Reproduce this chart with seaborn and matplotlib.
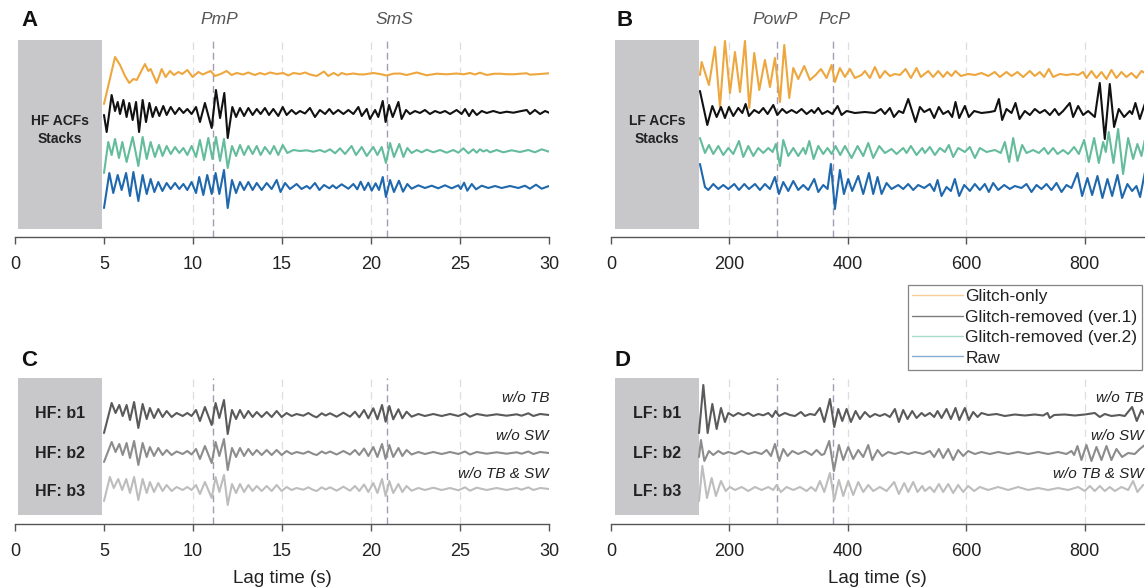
import numpy as np
import pandas as pd
import matplotlib
matplotlib.use("Agg")
import matplotlib.pyplot as plt
from matplotlib.lines import Line2D
from matplotlib.patches import Rectangle
import seaborn as sns

# ---------------- DATA (lag time, amplitude) ----------------
hf_ticks = [0, 5, 10, 15, 20, 25, 30]
lf_ticks = [0, 200, 400, 600, 800]
hf_phases = {"PmP": 11.1, "SmS": 20.9}
lf_phases = {"PowP": 280, "PcP": 375}
hf_grid = [10, 15, 20, 25]
lf_grid = [200, 400, 600, 800]

series_labels = ["Glitch-only", "Glitch-removed (ver.1)", "Glitch-removed (ver.2)", "Raw"]
band_labels_hf = ["HF: b1", "HF: b2", "HF: b3"]
band_labels_lf = ["LF: b1", "LF: b2", "LF: b3"]
band_notes = ["w/o TB", "w/o SW", "w/o TB & SW"]

hf_glitch = [(5.0,-30),(5.62,17),(5.90,9),(6.18,-2),(6.42,-9),(6.65,-5),(6.84,-6),(7.30,10),(7.49,3),(7.62,5),(7.96,-9),(8.24,5),(8.46,-3),(8.71,3),(8.93,-1),(9.18,2),(9.40,0),(9.68,4),(9.98,-3),(10.30,2),(10.55,-0.5),(10.73,1),(10.99,3),(11.24,-2),(11.55,0),(11.89,3),(12.17,-1),(12.45,1),(12.83,-0.5),(13.10,1.5),(13.48,-1),(13.76,1),(14.04,-0.5),(14.33,1.5),(14.70,0),(15.07,1),(15.35,-1.5),(15.64,1),(16.01,0),(16.30,1.5),(16.57,-0.5),(16.95,-2),(17.36,2.5),(17.60,-2),(17.90,1),(18.16,-1.5),(18.35,1),(18.63,-0.5),(19.00,0.5),(19.30,-0.3),(19.57,-0.5),(20.13,1),(20.50,0),(20.88,-1.5),(21.25,0.3),(21.63,0.5),(22.00,-1),(22.57,1.5),(23.13,-1.3),(23.69,0.3),(24.25,-0.3),(24.80,0.5),(25.19,-0.3),(25.56,1),(25.85,-0.5),(26.12,1.3),(26.50,-1),(26.90,0.2),(27.25,0.3),(27.60,-0.2),(28.00,-0.3),(28.40,0.3),(28.75,0.7),(28.93,-0.7),(29.50,0),(30.0,0.7)]
hf_removed_v1 = [(5.0,-3),(5.15,-20),(5.43,17),(5.62,1),(5.77,10),(5.90,-2),(6.09,12),(6.27,-5),(6.42,9),(6.61,-8),(6.80,10),(6.97,-20),(7.17,12),(7.36,-10),(7.55,9),(7.73,-5),(7.92,5),(8.11,-4),(8.33,6),(8.52,-3),(8.75,5),(8.99,-2),(9.23,4),(9.46,-1),(9.68,3),(9.92,-2),(10.17,5),(10.39,-10),(10.67,9),(11.05,-16),(11.29,22),(11.52,-6),(11.76,19),(11.95,-26),(12.21,5),(12.42,-5),(12.64,4),(12.87,-4),(13.11,4),(13.35,-3),(13.58,3),(13.80,-2),(14.04,4),(14.27,-3),(14.51,3),(14.79,-4),(15.04,5),(15.26,-3),(15.54,2),(15.78,-2),(16.01,1),(16.29,-1.5),(16.57,4),(16.85,-5),(17.13,2),(17.42,-2),(17.66,3),(17.88,-2),(18.16,2),(18.45,-2),(18.73,2),(19.01,-2),(19.29,5),(19.48,-4),(19.76,3),(19.94,-7),(20.23,2),(20.41,-5),(20.66,11),(20.82,-10),(21.01,7),(21.22,-5),(21.54,10),(21.72,-7),(21.97,2),(22.19,-2),(22.47,1),(22.75,-1),(23.03,2),(23.31,-2),(23.60,1),(23.88,-1),(24.16,1),(24.44,-2),(24.81,2),(25.09,-2),(25.28,3),(25.51,-4),(25.71,2),(25.94,-3),(26.22,1),(26.50,-1),(26.87,1),(27.25,-1),(27.62,0.3),(28.00,-0.7),(28.37,0.7),(28.75,2),(28.93,-2),(29.21,2),(29.50,-2),(29.78,1),(30.0,-0.7)]
hf_removed_v2 = [(5.0,-22),(5.24,9),(5.43,-4),(5.62,12),(5.84,-7),(6.03,9),(6.27,-11),(6.61,14),(6.93,-15),(7.17,14),(7.40,-8),(7.62,9),(7.86,-6),(8.09,6),(8.29,-5),(8.52,5),(8.75,-3),(8.99,4),(9.23,-2),(9.46,3),(9.68,-4),(9.92,5),(10.17,-6),(10.39,11),(10.62,-9),(10.86,13),(11.09,-8),(11.29,14),(11.52,-10),(11.74,12),(11.95,-17),(12.19,5),(12.42,-5),(12.64,6),(12.87,-4),(13.11,5),(13.35,-3),(13.58,5),(13.80,-4),(14.04,4),(14.33,-3),(14.55,5),(14.79,-4),(15.04,6),(15.30,-2),(15.64,1),(16.01,0),(16.39,0.7),(16.76,-0.7),(17.13,1),(17.40,-1),(17.70,1.7),(17.98,-2.3),(18.26,2.7),(18.54,-3),(18.91,5),(19.16,-4),(19.48,4),(19.76,-5),(20.13,4),(20.36,-4),(20.60,4),(20.84,-12),(21.07,8),(21.29,-6),(21.59,7),(21.82,-6),(22.04,3),(22.28,-2),(22.57,1),(22.85,-1.3),(23.13,1.3),(23.50,-1.3),(23.88,1),(24.25,-1.7),(24.62,1),(24.91,-1.7),(25.19,2.7),(25.47,-2.3),(25.75,1.7),(25.94,-1.7),(26.12,1.7),(26.31,-0.5),(26.50,1),(26.69,-1.3),(27.06,1),(27.43,-1.3),(27.90,0.7),(28.37,-1),(28.84,1),(29.21,-1.3),(29.59,1.7),(30.0,-0.7)]
hf_raw = [(5.0,-21),(5.30,14),(5.52,-6),(5.77,12),(5.99,-3),(6.24,14),(6.46,-9),(6.65,15),(6.93,-14),(7.17,12),(7.40,-7),(7.62,8),(7.83,-5),(8.05,5),(8.28,-4),(8.52,4),(8.75,-2),(8.99,4),(9.23,-2),(9.46,3),(9.68,-3),(9.92,5),(10.17,-6),(10.35,10),(10.58,-8),(10.80,12),(11.05,-7),(11.27,14),(11.48,-7),(11.74,17),(11.95,-21),(12.19,7),(12.42,-6),(12.64,5),(12.87,-3),(13.11,5),(13.35,-3),(13.58,4),(13.86,-3),(14.14,4),(14.42,-2),(14.70,7),(14.92,-5),(15.17,4),(15.45,-2),(15.82,3),(16.10,-2),(16.39,1),(16.57,-1.7),(16.85,4),(17.10,-3),(17.36,2),(17.66,-1.3),(17.85,1.7),(18.05,-1.3),(18.35,2.7),(18.73,-1.7),(19.01,3),(19.23,-2.3),(19.42,5.3),(19.63,-3),(19.85,4.3),(20.04,-3.7),(20.26,3.7),(20.45,-3),(20.66,10),(20.84,-10),(21.07,7),(21.29,-5),(21.57,6.3),(21.80,-4.7),(22.04,3),(22.28,-1.7),(22.66,1.7),(23.03,-1),(23.41,1.3),(23.78,-1.3),(24.16,1.7),(24.53,-1.3),(24.91,1.7),(25.04,-2),(25.23,4.3),(25.41,-3.7),(25.66,3),(25.90,-2.3),(26.22,1.3),(26.59,-1),(26.97,1),(27.34,-1),(27.81,1),(28.28,-1),(28.65,1.3),(28.93,-1.7),(29.27,2.3),(29.59,-1.7),(30.0,1)]

lf_glitch = [(150.2,-1),(153.1,12),(165.4,-11),(175.6,27),(184.0,-33),(192.4,33),(200.9,-19),(209.3,22),(217.8,-18),(226.2,33),(233.5,-34),(241.9,21),(250.4,-16),(259.9,14),(268.4,-13),(276.8,16),(285.3,-28),(292.6,29),(301.0,-24),(307.8,6),(316.2,-5),(326.3,8),(335.9,-6),(345.5,-1),(354.5,5),(364.0,-4),(372.5,9),(378.1,-8),(386.5,6),(395.0,-3),(403.4,5),(411.9,-4),(423.1,-1),(428.7,3),(437.2,-4),(445.6,7),(454.0,-4),(462.5,3),(470.9,-2),(479.4,0),(487.8,-1),(497.4,5),(506.4,-4),(515.9,6),(523.2,-3),(535.6,3),(544.0,-3),(552.5,3),(560.9,-3),(567.7,2),(575.0,-2),(581.7,3),(590.7,-2),(603.1,0),(614.4,-1),(625.6,1),(636.9,-2),(648.1,2),(656.6,-3),(667.8,2),(676.3,-2),(686.4,2),(695.9,-3),(707.2,3),(715.6,-2),(724.1,2),(731.4,-3),(739.3,5),(746.6,-3),(757.8,0),(769.1,-1),(780.3,0),(788.8,-1),(797.2,2),(802.8,-4),(811.3,3),(819.7,-4),(828.2,2),(836.6,-5),(845.0,4),(853.5,-4),(861.9,2),(870.3,-3),(878.8,1),(887.2,-4),(895.7,3),(901.3,1)]
lf_removed_v1 = [(150.2,21),(162.6,-13),(171.1,6),(178.4,-5),(185.7,5),(192.4,-6),(199.2,5),(206.5,-4),(214.9,4),(221.7,-1),(227.3,8),(232.9,-4),(241.9,2),(249.8,-1),(257.1,4),(264.4,-2),(274.0,7),(280.8,-3),(289.2,3),(296.5,-1),(305.0,2),(313.4,-1),(321.8,3),(330.3,-2),(338.7,2),(343.2,-1),(350.0,4),(356.7,-2),(365.7,1),(373.6,-2),(382.6,6),(389.3,-3),(397.8,1),(411.9,-1),(428.7,0),(445.6,-1),(455.7,3),(462.5,-2),(470.9,4),(477.7,-5),(486.1,1),(493.4,-1),(501.9,13),(514.2,-10),(521.6,5),(528.9,0),(538.4,3),(545.7,-6),(553.6,5),(560.9,-2),(569.4,1),(576.1,-5),(581.7,10),(587.9,-6),(597.5,6),(604.2,-5),(613.2,1),(625.6,-1),(639.7,0),(648.1,1),(654.9,13),(660.5,-8),(667.8,3),(676.3,-1),(683.0,9),(689.8,-7),(698.8,1),(707.2,-3),(715.6,3),(724.1,-1),(732.5,2),(741.0,-3),(749.4,3),(756.1,-3),(763.4,1),(774.7,9),(780.3,-5),(788.8,6),(797.2,-3),(805.7,1),(816.9,-5),(825.3,29),(833.8,-27),(842.2,28),(849.5,-15),(857.4,3),(866.4,-5),(876.0,1),(879.9,-2),(885.5,9),(892.9,-7),(901.3,8)]
lf_removed_v2 = [(150.2,13),(158.7,-2),(165.4,6),(172.7,-3),(181.2,5),(189.6,-4),(198.1,3),(206.5,-3),(216.1,10),(223.4,-6),(231.8,5),(240.3,-5),(248.7,3),(257.1,-2),(265.6,3),(272.9,-1),(278.5,7),(285.3,-15),(290.9,11),(299.3,-5),(307.8,3),(316.2,-5),(324.7,3),(328.6,-3),(334.8,10),(342.1,-8),(350.0,5),(358.4,-3),(365.7,3),(372.5,-3),(379.2,5),(387.1,-4),(395.0,5),(406.2,-7),(416.3,5),(425.9,-5),(434.4,8),(442.8,-7),(452.9,5),(462.5,-2),(473.7,2),(482.2,-3),(493.4,3),(499.1,-2),(506.4,5),(515.9,-4),(525.5,3),(530.0,-2),(538.4,4),(546.9,-4),(555.3,3),(563.7,-1),(570.5,6),(577.8,-6),(586.2,3),(597.5,-1),(605.9,4),(614.4,-7),(622.8,3),(634.1,-1),(648.1,1),(658.2,-2),(665.0,9),(672.3,-11),(679.1,13),(686.4,-10),(694.3,6),(701.6,-2),(712.8,1),(722.4,-2),(731.4,3),(738.1,-3),(746.6,3),(753.9,-3),(763.4,1),(771.9,-3),(782.0,4),(789.9,-3),(798.9,11),(806.8,-11),(815.8,13),(823.7,-12),(831.0,9),(835.5,-1),(840.5,19),(848.4,-12),(856.3,22),(864.7,-23),(873.2,13),(881.6,-8),(888.9,7),(895.7,-5),(901.3,11)]
lf_raw = [(150.2,23),(158.7,0),(164.3,-3),(172.7,3),(181.2,-2),(189.6,2),(198.1,-2),(208.2,3),(216.1,-3),(225.1,3),(232.9,-2),(243.1,3),(251.5,-3),(259.9,3),(268.4,-2),(276.8,10),(283.6,-7),(290.9,5),(299.3,-4),(307.8,6),(316.2,-3),(324.7,2),(333.1,-3),(343.2,8),(350.0,-5),(358.4,2),(365.7,-2),(371.3,23),(378.1,-22),(386.5,17),(393.3,-7),(400.6,8),(407.3,-4),(417.5,11),(425.9,-7),(435.5,14),(442.8,-7),(450.1,10),(456.9,-7),(465.3,4),(473.7,-2),(485.0,2),(493.4,-2),(501.9,3),(510.3,-3),(518.7,2),(528.9,-1),(538.4,3),(545.7,-4),(551.4,7),(558.1,-9),(566.5,0),(573.9,-4),(580.6,8),(587.9,-9),(596.4,2),(605.9,-4),(614.4,3),(622.8,-3),(631.2,3),(638.0,-5),(645.3,4),(653.8,-3),(663.9,2),(673.4,-2),(681.9,1),(693.1,-1),(701.6,3),(710.0,-5),(718.5,2),(726.9,-2),(735.3,3),(743.8,-3),(752.2,4),(760.7,-5),(769.1,2),(777.5,-1),(787.6,14),(795.5,-9),(804.5,9),(812.4,-8),(821.4,11),(829.8,-11),(838.3,8),(846.2,-9),(855.2,12),(863.0,-11),(872.0,3),(879.9,-4),(887.2,1),(893.4,-10),(901.3,14)]

hf_b1 = [(5.0,-18),(5.43,12),(5.65,2),(5.86,10),(6.05,-1),(6.27,10),(6.46,-5),(6.69,13),(6.93,-13),(7.17,11),(7.40,-4),(7.58,7),(7.81,-3),(8.05,6),(8.29,-2),(8.52,4),(8.80,-2),(9.08,2),(9.42,-1),(9.68,2),(9.92,-1),(10.17,5),(10.39,-6),(10.67,8),(11.05,-10),(11.27,12),(11.48,-3),(11.74,15),(11.95,-19),(12.19,5),(12.42,-4),(12.64,5),(12.87,-3),(13.11,4),(13.35,-2),(13.58,3),(13.86,-2),(14.14,3),(14.42,-2),(14.70,4),(14.98,-2),(15.26,2),(15.54,-1),(15.82,1),(16.20,-0.7),(16.48,2),(16.76,-1),(16.95,-2.3),(17.23,1.7),(17.45,-0.5),(17.70,1.7),(18.07,-1.7),(18.45,2.3),(18.82,-1.7),(19.10,3.3),(19.34,-2.3),(19.61,5),(19.85,-3.3),(20.13,6.7),(20.36,-4.3),(20.62,10),(20.82,-6.7),(21.03,9),(21.25,-4.3),(21.54,5.7),(21.76,-3.3),(22.00,3.3),(22.28,-1.7),(22.66,1),(23.03,-1),(23.50,1),(23.97,-1),(24.44,1),(24.91,-1),(25.28,1.7),(25.56,-1.7),(25.94,1),(26.50,-0.7),(27.06,0.7),(27.62,-0.7),(28.18,0.7),(28.46,-0.7),(28.84,1.7),(29.12,-1),(29.50,1),(30.0,0)]
hf_b2 = [(5.0,-9),(5.43,11),(5.65,1),(5.86,9),(6.05,-2),(6.27,10),(6.46,-5),(6.69,12),(6.93,-12),(7.17,10),(7.40,-4),(7.58,6),(7.81,-3),(8.05,5),(8.29,-2),(8.52,3),(8.80,-2),(9.08,1.5),(9.42,-1),(9.68,2),(9.92,-1.5),(10.17,4),(10.39,-6),(10.67,7),(11.05,-10),(11.27,11),(11.48,-3),(11.74,14),(11.95,-17),(12.19,5),(12.42,-4),(12.64,5),(12.87,-3),(13.11,4),(13.35,-2),(13.58,3),(13.86,-2),(14.14,3),(14.42,-2),(14.70,3),(14.98,-2),(15.26,2),(15.54,-1),(15.82,1),(16.20,-0.7),(16.48,1.5),(16.76,-1),(16.95,-2),(17.23,1.5),(17.45,-0.5),(17.70,1.5),(18.07,-1.5),(18.45,2),(18.82,-1.5),(19.10,3),(19.34,-2),(19.61,4.5),(19.85,-3),(20.13,6),(20.36,-4),(20.62,9),(20.82,-6),(21.03,8),(21.25,-4),(21.54,5),(21.76,-3),(22.00,3),(22.28,-1.5),(22.66,1),(23.03,-1),(23.50,1),(23.97,-1),(24.44,1),(24.91,-1),(25.28,1.5),(25.56,-1.5),(25.94,1),(26.50,-0.7),(27.06,0.7),(27.62,-0.7),(28.18,0.7),(28.46,-0.7),(28.84,1.5),(29.12,-1),(29.50,1),(30.0,0)]
hf_b3 = [(5.0,-12),(5.33,12),(5.55,1),(5.80,10),(6.02,-1),(6.25,10),(6.46,-4),(6.69,12),(6.93,-11),(7.17,10),(7.40,-4),(7.58,7),(7.81,-3),(8.05,6),(8.29,-2),(8.52,4),(8.80,-2),(9.08,2),(9.42,-1),(9.68,2),(9.92,-1),(10.17,4),(10.39,-5),(10.67,7),(11.05,-9),(11.27,12),(11.48,-3),(11.74,14),(11.95,-16),(12.19,5),(12.42,-4),(12.64,5),(12.87,-3),(13.11,4),(13.35,-2),(13.58,3),(13.86,-2),(14.14,3),(14.42,-2),(14.70,4),(14.98,-2),(15.26,2),(15.54,-1),(15.82,1),(16.20,-0.7),(16.48,1.7),(16.76,-1),(16.95,-2),(17.23,1.7),(17.45,-0.5),(17.70,1.7),(18.07,-1.7),(18.45,2.3),(18.82,-1.7),(19.10,3),(19.34,-2),(19.61,4.5),(19.85,-3),(20.13,6),(20.36,-4),(20.62,10),(20.82,-7),(21.03,8),(21.25,-4),(21.54,5),(21.76,-3),(22.00,3),(22.28,-1.7),(22.66,1),(23.03,-1),(23.50,1.3),(23.97,-1),(24.44,1),(24.91,-1.3),(25.28,1.7),(25.56,-1.7),(25.94,1.3),(26.50,-1),(27.06,1),(27.62,-1),(28.18,1),(28.46,-0.7),(28.84,1.7),(29.12,-1),(29.50,1),(30.0,0)]

lf_b1 = [(148.6,-18),(155.9,30),(163.2,-18),(171.1,11),(178.4,-14),(185.7,7),(192.4,-7),(198.1,2),(206.5,-1),(214.9,2),(223.4,-0.3),(231.8,2),(240.3,-1),(248.7,1),(257.1,-0.3),(265.6,2),(272.3,-2),(277.9,4),(283.6,-1),(293.7,2),(302.1,0),(310.6,-1),(320.7,3),(327.5,-1),(335.9,1),(344.3,0),(352.8,7),(360.1,-7),(369.7,16),(377.0,-12),(383.7,6),(390.5,-6),(397.8,6),(405.1,-7),(413.0,4),(420.3,-4),(428.7,3),(437.2,-2),(445.6,1),(454.0,-1),(462.5,1),(470.9,-2),(479.4,6),(486.1,-7),(493.4,5),(500.7,-4),(508.6,4),(515.9,-3),(524.4,2),(530.0,-1),(538.4,2),(545.7,-2),(551.4,4),(558.1,-3),(566.5,6),(573.9,-4),(581.7,7),(588.1,-5),(597.5,7),(604.2,-5),(611.6,3),(618.9,-2),(625.6,2),(636.9,0),(650.9,1),(665.0,-1),(681.9,0.5),(698.8,-0.5),(715.6,0.5),(729.7,-0.5),(737.0,2),(740.9,-3),(748.3,0),(766.3,0.5),(783.2,-0.5),(800.0,0.5),(816.9,2),(825.3,-2),(833.8,1),(845.0,-1),(858.5,0),(867.5,-1),(879.9,8),(887.8,-6),(895.7,5),(901.3,0)]
lf_b2 = [(148.6,-4),(151.9,13),(157.6,-8),(165.4,2),(172.7,-2),(181.2,2),(189.6,-1),(198.1,1),(209.3,-1),(220.6,2),(231.8,-1),(243.1,1),(254.3,-1),(262.8,3),(270.1,-3),(276.8,9),(284.1,-8),(290.9,4),(298.2,-3),(306.1,2),(316.2,-1),(327.5,2),(338.7,-2),(347.1,3),(355.6,-2),(360.1,-1),(368.5,12),(376.4,-18),(384.8,8),(392.2,-7),(400.6,6),(409.0,-6),(417.5,3),(425.9,-4),(434.4,8),(441.1,-7),(450.1,3),(458.0,-3),(468.1,1),(479.4,-1),(490.6,1),(501.9,-1),(513.1,1),(527.2,-1),(538.4,2),(545.7,-4),(553.6,4),(560.9,-5),(569.4,4),(577.8,-7),(586.2,3),(594.7,-3),(603.1,2),(614.4,-1),(625.6,1),(639.7,-1),(653.8,1),(670.6,-1),(687.5,1),(704.4,-1),(721.3,1),(738.1,-1),(755.0,1),(769.1,-1),(777.5,2),(782.0,-2),(787.6,7),(794.4,-7),(802.8,8),(811.3,-8),(819.7,6),(828.2,-7),(836.6,7),(845.0,-7),(853.5,4),(863.0,-4),(873.2,0),(884.4,-1),(892.9,4),(901.3,8)]
lf_b3 = [(148.6,-12),(154.2,23),(162.1,-9),(169.9,11),(177.2,-7),(185.7,8),(193.6,-2),(200.9,2),(209.3,-1),(220.6,2),(231.8,-2),(243.1,2),(254.3,-1),(265.6,2),(274.0,-1),(279.6,4),(286.9,-3),(296.5,2),(307.8,-1),(319.0,2),(330.3,-2),(338.0,2),(345.5,-2),(352.8,8),(360.1,-3),(369.7,16),(377.0,-11),(384.8,9),(392.2,-7),(400.6,8),(409.0,-6),(417.5,7),(425.9,-3),(434.4,4),(442.8,-2),(454.0,2),(465.3,-2),(478.2,7),(486.1,-5),(495.1,6),(501.9,-3),(510.3,7),(517.6,-3),(525.5,3),(530.0,-2),(538.4,2),(545.7,-3),(553.6,5),(560.9,-3),(569.4,5),(577.8,-4),(586.2,4),(594.7,-3),(603.1,3),(613.2,-2),(622.8,2),(636.9,-1),(653.8,2),(670.6,-1),(687.5,2),(704.4,-1),(721.3,1),(738.1,-1),(755.0,1),(771.9,-1),(788.8,2),(800.0,-2),(808.5,3),(816.9,-2),(825.3,3),(833.8,-2),(842.2,2),(850.7,-2),(862.0,2),(873.2,-1),(881.6,8),(888.9,-3),(898.5,4)]

# ---------------- STYLE ----------------
sns.set_theme(style="white")
plt.rcParams['font.family'] = ['Liberation Sans', 'DejaVu Sans']

W, H = 1145, 587
fig = plt.figure(figsize=(W / 100, H / 100), dpi=100)

def px_axes(x0, x1, y_bottom, y_top):
    return fig.add_axes([x0 / W, 1 - y_bottom / H, (x1 - x0) / W, (y_bottom - y_top) / H])

ax_a = px_axes(15, 549, 237, 25)
ax_b = px_axes(611, 1144, 237, 25)
ax_c = px_axes(15, 549, 524, 340)
ax_d = px_axes(611, 1144, 524, 340)

colors4 = ["#EDA73E", "#111111", "#64BC9C", "#1F68AE"]
grays3 = ["#5a5a5a", "#8c8c8c", "#bdbdbd"]
box_col = "#c8c8cb"
phase_col = "#a39cb2"
grid_col = "#dedede"

def trace(ax, data, off, color, lw=1.5):
    arr = np.array(data, dtype=float)
    df = pd.DataFrame({"t": arr[:, 0], "y": arr[:, 1] + off})
    sns.lineplot(data=df, x="t", y="y", ax=ax, color=color, lw=lw,
                 estimator=None, sort=False, legend=False,
                 solid_joinstyle="round", solid_capstyle="round")

def style_axis(ax, xlim, ticks, ylim):
    ax.set_xlim(*xlim)
    ax.set_ylim(*ylim)
    ax.set_xticks(ticks)
    ax.set_yticks([])
    ax.set_xlabel("")
    ax.set_ylabel("")
    for s in ["left", "top", "right"]:
        ax.spines[s].set_visible(False)
    ax.spines["bottom"].set_color("#555555")
    ax.spines["bottom"].set_linewidth(1.0)
    ax.tick_params(axis="x", bottom=True, length=5, width=1.0, color="#555555",
                   pad=9, labelsize=13, labelcolor="#222222", direction="out")
    ax.patch.set_alpha(0)

# ---- top panels ----
top_off = [163, 125, 86, 50]
for ax, data, xlim, ticks, grid, phases, box_x, lab in [
        (ax_a, [hf_glitch, hf_removed_v1, hf_removed_v2, hf_raw], (0, 30), hf_ticks, hf_grid, hf_phases, (0.15, 4.75), "HF ACFs\nStacks"),
        (ax_b, [lf_glitch, lf_removed_v1, lf_removed_v2, lf_raw], (0, 900), lf_ticks, lf_grid, lf_phases, (6.5, 142), "LF ACFs\nStacks")]:
    for d, off, c in zip(data, top_off, colors4):
        trace(ax, d, off, c)
    style_axis(ax, xlim, ticks, (0, 212))
    for g in grid:
        ax.axvline(g, ymin=0, ymax=197 / 212, color=grid_col, lw=0.9, ls=(0, (6, 4)), zorder=0)
    for name, x in phases.items():
        ax.axvline(x, ymin=0, ymax=197 / 212, color=phase_col, lw=1.0, ls=(0, (5, 3)), zorder=0)
    ax.add_patch(Rectangle((box_x[0], 8), box_x[1], 189, color=box_col, lw=0, zorder=1))
    ax.text(box_x[0] + box_x[1] / 2, 107, lab, ha="center", va="center", fontsize=10,
            fontweight="bold", color="#222222", linespacing=1.4, zorder=3)

ax_a.text(11.5, 217, "PmP", ha="center", va="center", fontsize=12.5, style="italic", color="#555555", clip_on=False)
ax_a.text(21.3, 217, "SmS", ha="center", va="center", fontsize=12.5, style="italic", color="#555555", clip_on=False)
ax_b.text(278, 217, "PowP", ha="center", va="center", fontsize=12.5, style="italic", color="#555555", clip_on=False)
ax_b.text(378, 217, "PcP", ha="center", va="center", fontsize=12.5, style="italic", color="#555555", clip_on=False)

# ---- bottom panels ----
bot_off = [109, 71, 35]
note_y = [126, 88, 50]
box_top_c = 146
for ax, data, xlim, ticks, grid, phases, box_x, labs, note_x in [
        (ax_c, [hf_b1, hf_b2, hf_b3], (0, 30), hf_ticks, hf_grid, hf_phases, (0.15, 4.75), band_labels_hf, 30),
        (ax_d, [lf_b1, lf_b2, lf_b3], (0, 900), lf_ticks, lf_grid, lf_phases, (6.5, 142), band_labels_lf, 899)]:
    for d, off, c in zip(data, bot_off, grays3):
        trace(ax, d, off, c)
    style_axis(ax, xlim, ticks, (0, 184))
    for g in grid:
        ax.axvline(g, ymin=0, ymax=box_top_c / 184, color=grid_col, lw=0.9, ls=(0, (6, 4)), zorder=0)
    for name, x in phases.items():
        ax.axvline(x, ymin=0, ymax=box_top_c / 184, color=phase_col, lw=1.0, ls=(0, (5, 3)), zorder=0)
    ax.add_patch(Rectangle((box_x[0], 9), box_x[1], box_top_c - 9, color=box_col, lw=0, zorder=1))
    for lab, off in zip(labs, [111, 71, 33]):
        ax.text(box_x[0] + box_x[1] / 2, off, lab, ha="center", va="center", fontsize=11.5,
                fontweight="bold", color="#222222", zorder=3)
    for note, y in zip(band_notes, note_y):
        ax.text(note_x, y, note, ha="right", va="center", fontsize=11, style="italic",
                color="#222222", clip_on=False)
    ax.set_xlabel("Lag time (s)", fontsize=13.5, color="#222222", labelpad=7)

# panel letters
for letter, (x, y) in zip("ABCD", [(21, 20), (616, 20), (21, 360), (614, 360)]):
    fig.text(x / W, 1 - y / H, letter, ha="left", va="center", fontsize=16, fontweight="bold", color="#111111")

# legend
handles = [Line2D([0], [0], color=c, lw=1.0, alpha=0.55) for c in colors4]
leg = fig.legend(handles, series_labels, loc="upper left", bbox_to_anchor=(908 / W, 1 - 285 / H),
                 bbox_transform=fig.transFigure, frameon=True, fancybox=False, fontsize=12.5,
                 borderpad=0.25, labelspacing=0.3, handlelength=2.9, handletextpad=0.15,
                 borderaxespad=0.0)
leg.get_frame().set_edgecolor("#666666")
leg.get_frame().set_linewidth(0.9)
for txt in leg.get_texts():
    txt.set_color("#222222")

fig.savefig("out.png", dpi=100)
